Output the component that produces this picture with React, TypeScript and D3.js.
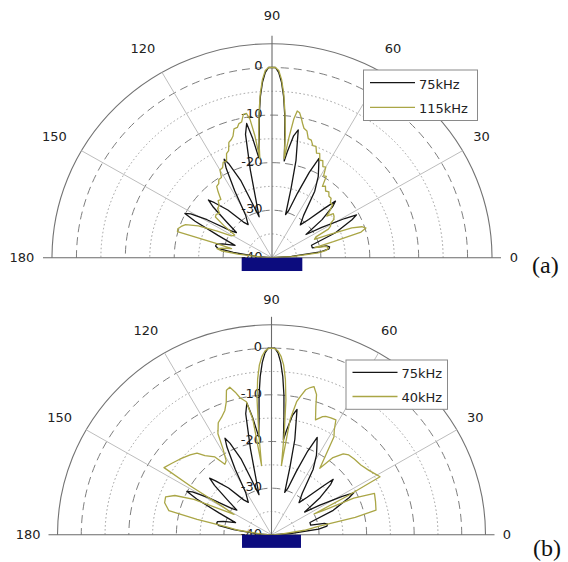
import React from 'react';
import * as d3 from 'd3';

type Pt = [number, number]; // [angle in degrees, level in dB]

const ANGLE_TICKS = [0, 30, 60, 90, 120, 150, 180];
const DB_TICK_LABELS = [-40, -30, -20, -10, 0];
const RING_LEVELS = [-35, -30, -25, -20, -15, -10, -5, 0];
const DASHED_LEVELS = [-30, -20, -10, 0];
const DB_MIN = -40;
const DB_MAX = 5;

const NAMES_A = ['75kHz', '115kHz'];
const NAMES_B = ['75kHz', '40kHz'];
const TAGS = ['(a)', '(b)'];
// transducer block, in radial (dB) units: half width, depth below baseline
const TRANSDUCER = [6.2, 2.8];

const BLACK_75KHZ: Pt[] = [
  [0, -40], [4, -36], [7, -30], [9, -28.2], [11, -28], [12.5, -28.6], [14, -31.5], [18, -31.5],
  [22, -26], [26, -21.8], [27.5, -20.5], [29, -23], [32, -28], [35, -31.5],
  [38, -27], [41, -23.5], [42.5, -22.4], [44, -25], [47, -29], [50, -31],
  [54, -29], [58, -23.5], [61, -20.5], [63, -19], [65.3, -17], [67, -20.5], [69, -25.5], [71, -29.5],
  [73, -30.5], [75, -25], [76.5, -19], [78.7, -12.6], [80.2, -14], [82, -17.5], [83, -19.5],
  [84, -15], [85, -10], [86, -6], [87, -3], [88, -1], [89, 0], [90, 0], [91, 0], [92, -1], [93, -3],
  [94, -6], [95, -10], [96, -15], [97.3, -18.8], [99, -14.5], [100.4, -11.3], [101.8, -13.5],
  [103.5, -21], [105, -27], [107, -31], [109, -28.5], [111.5, -22.5], [114, -18.5], [115.3, -17.1],
  [116.5, -19], [118.5, -24], [121, -29.5], [125, -31.5], [128, -30.5], [132, -26.5], [135.5, -23.5],
  [137, -22.2], [138.5, -24], [141, -28], [144, -31], [146, -30], [149, -24.5], [151, -21],
  [152.4, -19.9], [154, -22.5], [157, -28], [161, -32], [164, -29.5], [166, -28.3], [168, -28.2],
  [170, -28.8], [172, -32], [176, -37], [180, -40],
];

const OLIVE_115KHZ: Pt[] = [
  [0, -40], [3, -36], [6, -30.5], [8, -28.8], [10, -28.3], [12, -28.6], [13.5, -31], [15, -27], [16.5, -21],
  [18, -19.8], [19.5, -20.5], [21, -22.5], [22.5, -27], [24, -30.5], [26, -30], [27.5, -27], [29, -26.3],
  [31, -26], [32.5, -25], [34.5, -24.6], [36.5, -24.4], [38, -25.8], [40, -24.5], [42, -23.3], [44, -23.4],
  [46, -22.6], [48, -22.6], [50, -21.9], [52, -22.2], [54, -21.4], [55.5, -21.8], [57, -19.6], [58.5, -19.8],
  [60, -18], [61.5, -18.2], [63, -17.1], [64.5, -17.3], [66, -16], [67.5, -16.2], [69, -14.9], [70.5, -15],
  [72, -14], [73.5, -13.9], [75, -12.4], [76.5, -12], [77.5, -11.1], [78.5, -10], [79.5, -9], [80.5, -8.7],
  [81.3, -10.5], [82.2, -14.5], [83.2, -19], [84, -14], [85, -9.5], [86, -5.5], [87, -2.5], [88, -0.6],
  [89, 0], [90, 0], [91, 0], [92, -0.6], [93, -2.5], [94, -5.5], [95, -9.5], [96, -14], [96.8, -19],
  [97.8, -14], [98.8, -10.5], [99.8, -9.2], [101, -9.3], [102.3, -10.8], [103.5, -11], [104.5, -11.7],
  [106, -11.8], [107.3, -13.2], [108.5, -13.8], [110, -14.2], [111.5, -15.8], [113, -16.2], [114.5, -17.6],
  [116.5, -17.6], [118, -18.5], [120, -18.7], [121.5, -20.2], [123.5, -20.3], [125, -21], [127, -21.2],
  [128.5, -22.3], [130.5, -23.9], [132.5, -23.7], [134.5, -24.6], [137, -24.8], [139, -25.8], [141.5, -25.4],
  [143.5, -25.6], [145.5, -28], [148, -31], [151, -30.5], [153.5, -27.5], [156, -23.5], [158.5, -21],
  [160.5, -20.3], [162.5, -19.8], [164.2, -19.9], [165.3, -28], [167, -31.5], [169, -29.5], [170.5, -28.6],
  [172, -29.5], [174, -33], [177, -38], [180, -40],
];

const OLIVE_40KHZ: Pt[] = [
  [0, -40], [4, -38], [8, -33], [10.5, -30], [12, -22], [13.5, -17.4], [18, -17], [22.3, -16.6], [24.5, -21],
  [25.5, -28], [26.5, -30], [27.5, -22], [28.6, -14], [30.5, -14.5], [34, -15.3], [38.5, -16], [43, -16.2],
  [46.5, -16.4], [49, -17], [52, -19], [54.5, -22.5], [56, -20], [58, -15.2], [59.5, -14], [61.2, -11.9],
  [63.5, -12], [65.8, -12.2], [67, -12.5], [69.4, -13.7], [71.3, -10.9], [72.5, -8.5], [74.3, -7],
  [75.5, -7.4], [77, -8.1], [78.4, -9.7], [79.5, -11], [81, -15], [82, -25], [83, -18], [84, -11],
  [85, -6.5], [86, -3.5], [87, -1.7], [88, -0.6], [89, -0.1], [90, 0], [91, -0.1], [92, -0.6], [93, -1.7],
  [94, -3.5], [95, -6.5], [96, -11], [97, -18], [98, -25], [99, -15], [100.5, -11], [102.7, -9.9],
  [104, -8.5], [105.5, -7.2], [107, -7.6], [108.5, -10], [110.2, -11.6], [112.6, -12.7], [115, -13.5],
  [117.5, -15.6], [119, -19], [121, -21.5], [123, -22], [125.5, -19.5], [129.5, -18], [131.8, -16.5],
  [135, -15.8], [140, -14.8], [144, -14], [147.5, -13.2], [148.5, -20], [149.5, -28], [151, -31],
  [153, -28], [155, -22], [157.5, -18], [160, -16.3], [163, -16.5], [166.5, -17.8], [168, -24],
  [169.5, -30], [172, -33], [176, -38], [180, -40],
];

const FONT = '"DejaVu Sans", "Liberation Sans", Arial, sans-serif';
const BLACK = '#151515';
const OLIVE = '#aaa646';

type PanelProps = {
  cx: number; cy: number; rx: number; ry: number;
  black: Pt[]; olive: Pt[]; names: string[];
  legend: { x: number; y: number; w: number; h: number };
  tag: string; tagX: number; tagY: number;
};

function Panel({ cx, cy, rx, ry, black, olive, names, legend, tag, tagX, tagY }: PanelProps) {
  const sx = d3.scaleLinear().domain([DB_MIN, DB_MAX]).range([0, rx]).clamp(true);
  const sy = d3.scaleLinear().domain([DB_MIN, DB_MAX]).range([0, ry]).clamp(true);
  const px = (deg: number, db: number) => cx + sx(db) * Math.cos((deg * Math.PI) / 180);
  const py = (deg: number, db: number) => cy - sy(db) * Math.sin((deg * Math.PI) / 180);
  const line = d3.line<Pt>().x((d) => px(d[0], d[1])).y((d) => py(d[0], d[1]));
  const arc = (db: number) => {
    const a = sx(db), b = sy(db);
    return `M${cx + a},${cy} A${a},${b} 0 0 0 ${cx - a},${cy}`;
  };
  const labelR = rx * 1.1;
  const lx = legend.x, ly = legend.y;
  const row1 = ly + legend.h * 0.25, row2 = ly + legend.h * 0.74;
  const [hw, depth] = TRANSDUCER;

  return (
    <g>
      {RING_LEVELS.map((lv) => (
        <path key={lv} d={arc(lv)} fill="none"
          stroke={DASHED_LEVELS.includes(lv) ? '#7e7e7e' : '#9c9c9c'}
          strokeWidth={1}
          strokeDasharray={DASHED_LEVELS.includes(lv) ? '8,5' : '1.5,2.5'} />
      ))}
      <path d={arc(DB_MAX)} fill="none" stroke="#737373" strokeWidth={1.1} />
      {ANGLE_TICKS.filter((a) => a !== 0 && a !== 90 && a !== 180).map((a) => (
        <line key={a} x1={cx} y1={cy} x2={px(a, DB_MAX)} y2={py(a, DB_MAX)} stroke="#bdbdbd" strokeWidth={1} />
      ))}
      <line x1={cx - rx - 9} y1={cy} x2={cx + rx + 9} y2={cy} stroke="#6a6a6a" strokeWidth={1.1} />
      <line x1={cx} y1={cy} x2={cx} y2={cy - ry - 8} stroke="#6a6a6a" strokeWidth={1.1} />
      {DB_TICK_LABELS.map((v) => (
        <text key={v} x={cx - 9.5} y={py(90, v) - 1.5} textAnchor="end" dominantBaseline="central"
          fontFamily={FONT} fontSize={13} fill="#222">{v}</text>
      ))}
      <path d={line(black) || ''} fill="none" stroke={BLACK} strokeWidth={1.3} strokeLinejoin="round" />
      <path d={line(olive) || ''} fill="none" stroke={OLIVE} strokeWidth={1.3} strokeLinejoin="round" />
      {ANGLE_TICKS.map((a) => {
        const c = Math.cos((a * Math.PI) / 180);
        const s = Math.sin((a * Math.PI) / 180);
        const nudge = c < -0.1 ? -8 : 0;
        return (
          <text key={a} x={cx + labelR * c + nudge} y={cy - labelR * s} textAnchor="middle"
            dominantBaseline="central" fontFamily={FONT} fontSize={13} fill="#222">{a}</text>
        );
      })}
      <rect x={lx} y={ly} width={legend.w} height={legend.h} fill="#fff" stroke="#8a8a8a" strokeWidth={1} />
      <line x1={lx + 6.5} x2={lx + 51.5} y1={row1} y2={row1} stroke={BLACK} strokeWidth={1.4} />
      <line x1={lx + 6.5} x2={lx + 51.5} y1={row2} y2={row2} stroke={OLIVE} strokeWidth={1.4} />
      <text x={lx + 55.5} y={row1 + 1.5} dominantBaseline="central" fontFamily={FONT} fontSize={13} fill="#222">{names[0]}</text>
      <text x={lx + 55.5} y={row2 + 1.5} dominantBaseline="central" fontFamily={FONT} fontSize={13} fill="#222">{names[1]}</text>
      <rect x={cx - (sx(DB_MIN + hw) - sx(DB_MIN))} y={cy}
        width={2 * (sx(DB_MIN + hw) - sx(DB_MIN))} height={sy(DB_MIN + depth) - sy(DB_MIN)}
        fill="#0c0c7e" />
      <text x={tagX} y={tagY} fontFamily='"Liberation Serif", "Times New Roman", serif' fontSize={24} fill="#111">{tag}</text>
    </g>
  );
}

export default function App() {
  return (
    <div style={{ position: 'absolute', left: 0, top: 0 }}>
      <svg width={568} height={562} viewBox="0 0 568 562" style={{ display: 'block', background: '#fff' }}>
        <Panel cx={272} cy={257.7} rx={220} ry={214} black={BLACK_75KHZ} olive={OLIVE_115KHZ}
          names={NAMES_A} legend={{ x: 363.5, y: 70, w: 114, h: 50.5 }} tag={TAGS[0]} tagX={532} tagY={273} />
        <Panel cx={271.5} cy={534.8} rx={214} ry={210} black={BLACK_75KHZ} olive={OLIVE_40KHZ}
          names={NAMES_B} legend={{ x: 346, y: 360, w: 101.5, h: 49.3 }} tag={TAGS[1]} tagX={533} tagY={556} />
      </svg>
    </div>
  );
}
